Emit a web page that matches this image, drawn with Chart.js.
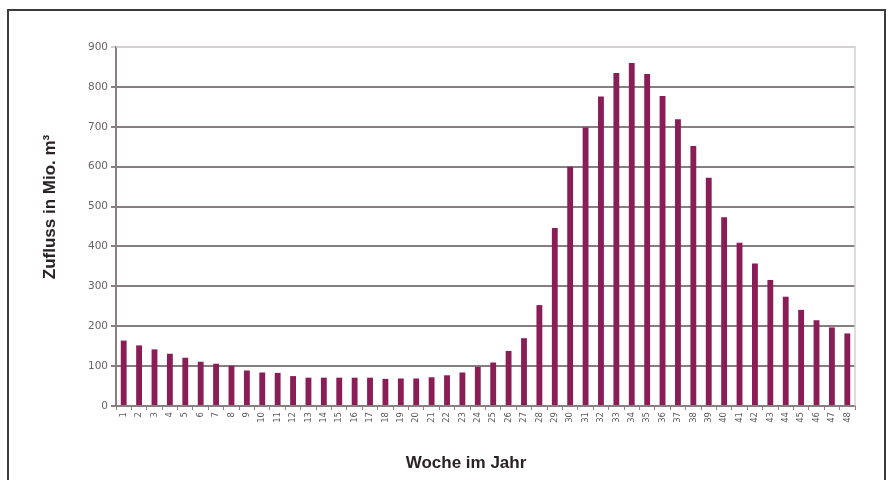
<!DOCTYPE html>
<html>
<head>
<meta charset="utf-8">
<script src="https://cdn.jsdelivr.net/npm/chart.js@4/dist/chart.umd.min.js"></script>
<style>
  html, body { margin: 0; padding: 0; background: #ffffff; }
  #wrap { width: 891px; height: 480px; }
</style>
</head>
<body>
<div id="wrap"><canvas id="c" width="891" height="480"></canvas></div>
<script>
// Wöchentlicher Zufluss (Mio. m³) über das Jahr
const weeks = ['1','2','3','4','5','6','7','8','9','10','11','12','13','14','15','16',
  '17','18','19','20','21','22','23','24','25','26','27','28','29','30','31','32',
  '33','34','35','36','37','38','39','40','41','42','43','44','45','46','47','48'];
const inflow = [164, 152, 142, 131, 121, 111, 106, 101, 89, 84, 83, 75,
  71, 71, 71, 71, 71, 68, 69, 69, 72, 77, 84, 98,
  109, 138, 170, 253, 446, 600, 698, 776, 835, 860, 832, 777,
  719, 652, 572, 473, 409, 357, 316, 274, 241, 215, 197, 182];
const yTicks = [0, 100, 200, 300, 400, 500, 600, 700, 800, 900];
const yTitle = 'Zufluss in Mio. m³';
const xTitle = 'Woche im Jahr';

// Rahmen um das Diagramm, Rand der Zeichenfläche und Achsentitel
const frame = {
  id: 'frame',
  beforeDraw(chart) {
    const ctx = chart.ctx;
    ctx.save();
    ctx.fillStyle = '#ffffff';
    ctx.fillRect(0, 0, chart.width, chart.height);
    ctx.strokeStyle = '#3c3c3c';
    ctx.lineWidth = 2;
    ctx.strokeRect(8, 10, 877, 490);
    ctx.restore();
  },
  afterDraw(chart) {
    const ctx = chart.ctx;
    const a = chart.chartArea;
    ctx.save();
    ctx.strokeStyle = '#d4d0d0';
    ctx.lineWidth = 1.5;
    ctx.beginPath();
    ctx.moveTo(a.left, a.top);
    ctx.lineTo(a.right, a.top);
    ctx.lineTo(a.right, a.bottom);
    ctx.stroke();

    ctx.fillStyle = '#2a2226';
    ctx.font = 'bold 17px "Liberation Sans", Arial, sans-serif';
    ctx.textAlign = 'center';
    ctx.textBaseline = 'middle';
    ctx.fillText(xTitle, 466, 463);
    ctx.translate(50, 207);
    ctx.rotate(-Math.PI / 2);
    ctx.fillText(yTitle, 0, 0);
    ctx.restore();
  }
};

new Chart(document.getElementById('c'), {
  type: 'bar',
  data: {
    labels: weeks,
    datasets: [{
      data: inflow,
      backgroundColor: '#8a1d56',
      borderWidth: 0,
      barPercentage: 0.38,
      categoryPercentage: 1.0
    }]
  },
  options: {
    responsive: false,
    animation: false,
    devicePixelRatio: 1,
    layout: { padding: { left: 0, top: 47, right: 36, bottom: 0 } },
    plugins: {
      legend: { display: false },
      tooltip: { enabled: false }
    },
    scales: {
      x: {
        offset: true,
        afterFit(s) { s.height = 74; },
        grid: {
          offset: true,
          drawOnChartArea: false,
          drawTicks: true,
          tickLength: 4,
          color: '#8a8484',
          lineWidth: 1
        },
        border: { display: true, color: '#857f80', width: 2 },
        ticks: {
          autoSkip: false,
          maxRotation: 90,
          minRotation: 90,
          padding: 2,
          color: '#5e585a',
          font: { family: '"DejaVu Sans", sans-serif', size: 8.5 }
        }
      },
      y: {
        min: 0,
        max: 900,
        afterFit(s) { s.width = 116; },
        afterBuildTicks(s) { s.ticks = yTicks.map(v => ({ value: v })); },
        grid: {
          drawTicks: true,
          tickLength: 5,
          color: ctx => (ctx.tick && ctx.tick.value === 900) ? '#d4d0d0' : '#867e7e',
          lineWidth: 2
        },
        border: { display: true, color: '#857f80', width: 2 },
        ticks: {
          padding: 3,
          color: '#6a6466',
          font: { family: '"DejaVu Sans", sans-serif', size: 10.5 }
        }
      }
    }
  },
  plugins: [frame]
});
</script>
</body>
</html>
